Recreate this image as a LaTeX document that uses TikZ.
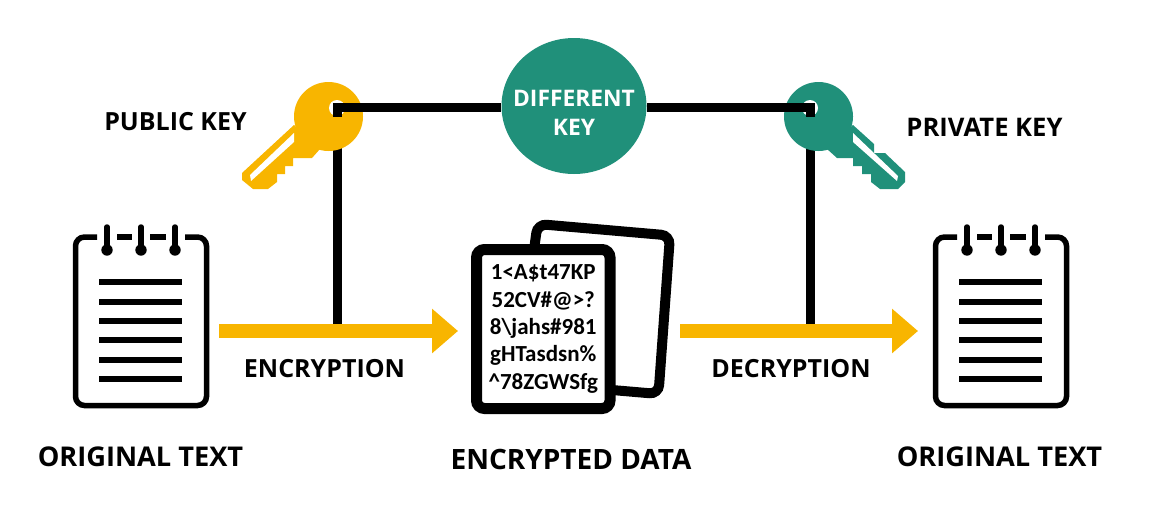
\documentclass[tikz,border=0pt]{standalone}
\usepackage{fontspec}
\setmainfont{Open Sans}
\newfontfamily\docfont{Carlito}
\usetikzlibrary{arrows.meta,positioning,shapes.geometric}
\definecolor{keyyellow}{HTML}{F8B500}
\definecolor{keygreen}{HTML}{20907A}
\tikzset{
  wire/.style={draw=black,line width=9pt},
  cryptarrow/.style={draw=keyyellow,line width=13.5pt,-{Triangle[length=26pt,width=43pt,fill=keyyellow]}},
  padline/.style={draw=black,line width=5.5pt},
  docpage/.style={draw=black,fill=white,line width=11pt,rounded corners=8pt,inner sep=0pt},
  caption/.style={font=\bfseries\fontsize{25}{28}\selectfont,text=black,inner sep=0pt},
  bigcaption/.style={font=\bfseries\fontsize{27.2}{30}\selectfont,text=black,inner sep=0pt}
}
\begin{document}
\begin{tikzpicture}[x=1pt,y=-1pt]
  \useasboundingbox (0,0) rectangle (1153,514);

  % wires behind the keys
  \coordinate (pubhole)  at (337,107.5);
  \coordinate (privhole) at (810,107.5);
  \coordinate (encjoin)  at (337,331);
  \coordinate (decjoin)  at (810,331);
  \draw[wire] (pubhole) -- (encjoin);
  \draw[wire] (privhole) -- (decjoin);

  % public key
  \fill[keyyellow] (328.5,116.5) circle (34.5);
  \fill[keyyellow] (294,125) -- (242,173) -- (242,180) -- (253,189) -- (268,189) -- (277,182)
     -- (277,174) -- (285,174) -- (285,166) -- (293,166) -- (293,158) -- (312,158) -- (320,149) -- cycle;
  \fill[white] (294,133) -- (250,175) -- (251,181) -- (294,142) -- cycle;
  \fill[white] (337,108) circle (8);

  % private key
  \fill[keygreen] (818.5,116.5) circle (34.5);
  \fill[keygreen] (853,125) -- (874,144) -- (874,153) -- (885,153) -- (905,172) -- (905,182) -- (898,189)
     -- (880,189) -- (871,182) -- (871,174) -- (862,174) -- (862,166) -- (853,166) -- (853,158)
     -- (837,158) -- (827,149) -- cycle;
  \fill[white] (853,133) -- (898,176) -- (897,181) -- (853,142) -- cycle;
  \fill[white] (810,108) circle (8);

  % different key
  \node[ellipse,fill=keygreen,minimum width=145pt,minimum height=136pt,inner sep=0pt] (diffkey) at (574,106) {};
  \node[align=center,text=white,inner sep=0pt,font=\bfseries\fontsize{22.8}{29}\selectfont] (difflabel) at (574,112.5) {DIFFERENT\\KEY};
  \draw[wire,line cap=rect,shorten >=4.5pt] (pubhole) -- (pubhole -| diffkey.west);
  \draw[wire,line cap=rect,shorten >=4.5pt] (privhole) -- (privhole -| diffkey.east);
  \draw[wire] (pubhole) -- ++(0,9);
  \draw[wire] (privhole) -- ++(0,9);

  % notepads
  \foreach \nx/\nname in {0/noteleft,860/noteright}{
    \begin{scope}[shift={(\nx,0)}]
      \node[minimum width=131pt,minimum height=168.5pt,inner sep=0pt] (\nname) at (141,321.25) {};
      \draw[padline,rounded corners=9pt] (97,237) -- (75.5,237) -- (75.5,405.5) -- (206.5,405.5) -- (206.5,237) -- (185,237);
      \draw[padline] (117,237) -- (132,237);
      \draw[padline] (150,237) -- (166,237);
      \foreach \rx in {107,141,175}{
        \draw[padline,line cap=round] (\rx,227) -- (\rx,250);
        \fill[black] (\rx,250) circle (5.7);
      }
      \foreach \ly in {282,302,321,340,360,379}
        \draw[padline] (99,\ly) -- (182,\ly);
    \end{scope}
  }

  % encrypted pages
  \draw[black,line width=10pt,rounded corners=9pt] (534,250) -- (537.5,224) -- (670,235.5) -- (658.5,394) -- (612,390);
  \node[docpage,minimum width=133.5pt,minimum height=159pt,align=center,
        font=\docfont\bfseries\fontsize{23}{27.3}\selectfont] (docfront) at (543.25,329) {1<A\$t47KP\\52CV\#@>?\\8\textbackslash jahs\#981\\gHTasdsn\%\\\^{}78ZGWSfg};

  % arrows
  \coordinate (encstart) at (219,331);
  \coordinate (enctip)   at (458,331);
  \coordinate (decstart) at (680,331);
  \coordinate (dectip)   at (918,331);
  \draw[cryptarrow] (encstart) -- (enctip);
  \draw[cryptarrow] (decstart) -- (dectip);

  % labels
  \node[caption] (publabel)  at (175.5,122) {PUBLIC KEY};
  \node[caption,font=\bfseries\fontsize{25.6}{28}\selectfont] (privlabel) at (984.5,127) {PRIVATE KEY};
  \node[caption] (enclabel)  at (324.5,369) {ENCRYPTION};
  \node[caption] (declabel)  at (791,369)   {DECRYPTION};
  \node[bigcaption] (origleft)  at (140.5,457) {ORIGINAL TEXT};
  \node[bigcaption] (origright) at (999.5,457) {ORIGINAL TEXT};
  \node[bigcaption,font=\bfseries\fontsize{28}{30}\selectfont] (doclabel) at (571,459) {ENCRYPTED DATA};
\end{tikzpicture}
\end{document}
